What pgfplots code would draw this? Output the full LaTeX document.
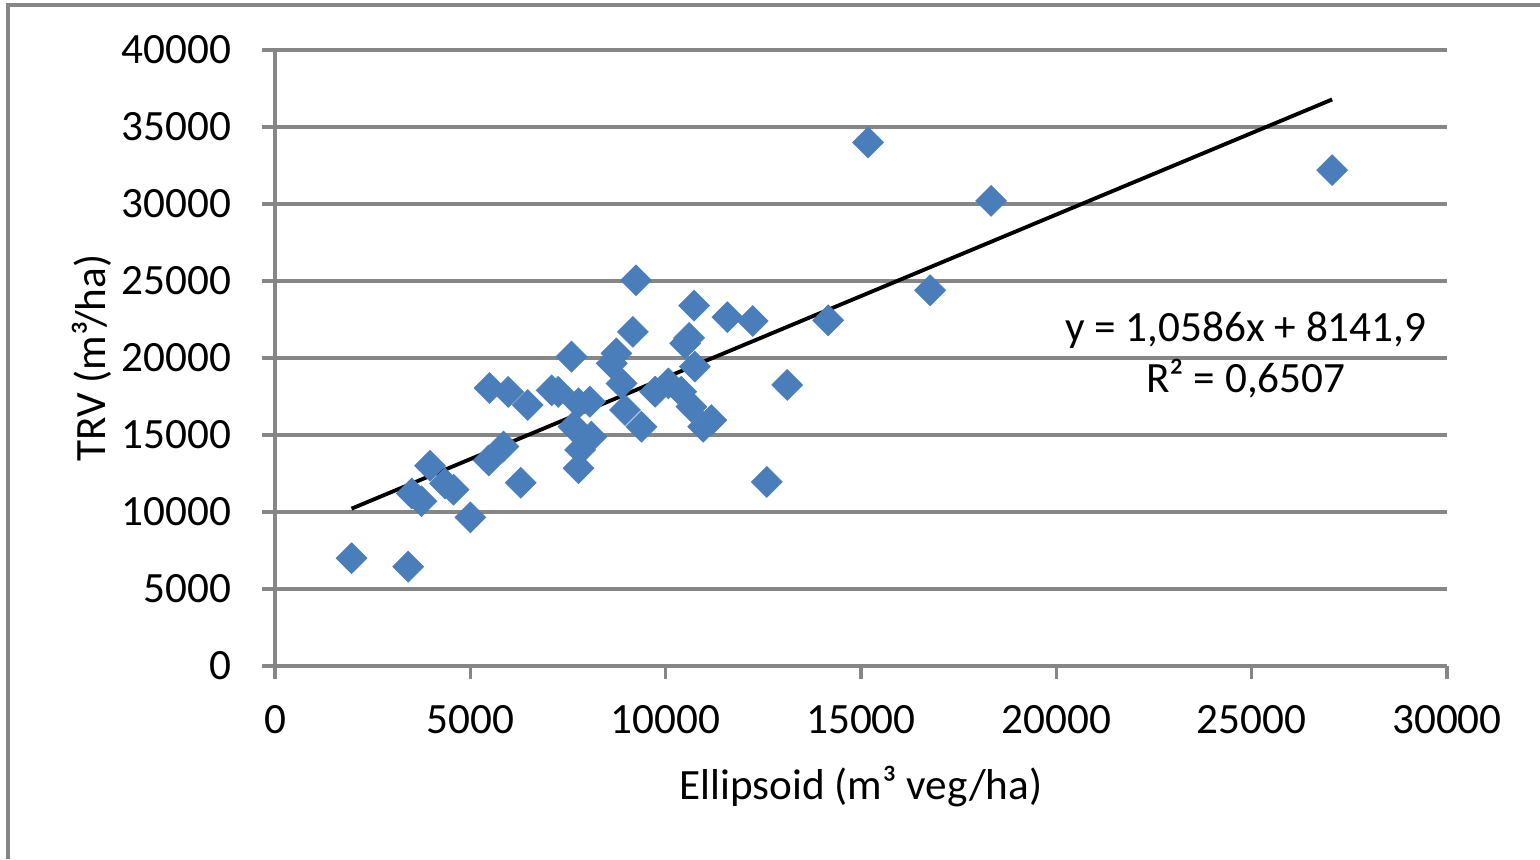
\documentclass[border=0pt]{standalone}
\usepackage{pgfplots}
\pgfplotsset{compat=1.18}
\usepackage{fontspec}
\setmainfont{Carlito}
\definecolor{ptblue}{RGB}{74,126,187}
\definecolor{gridgray}{RGB}{134,134,134}
\begin{document}
\begin{tikzpicture}[x=1cm,y=1cm]
\useasboundingbox (0,0) rectangle (15.4,8.59);
\draw[gridgray, line width=0.9pt] (0.08,0) -- (0.08,8.54) -- (15.4,8.54);
\begin{axis}[
  at={(2.75cm,1.93cm)}, anchor=south west,
  scale only axis, width=11.72cm, height=6.16cm,
  xmin=0, xmax=30000, ymin=0, ymax=40000,
  xtick distance=5000, ytick distance=5000,
  scaled ticks=false,
  axis x line*=bottom, axis y line*=left,
  axis line style={-, gridgray, line width=0.9pt},
  x axis line style={line width=1.3pt},
  xtick pos=left, ytick pos=left,
  ymajorgrids, grid style={gridgray, line width=0.9pt},
  tick align=outside, major tick length=0.13cm,
  tick style={gridgray, line width=0.9pt},
  ticklabel style={font=\fontsize{12.3}{14}\selectfont, inner sep=0pt},
  /pgf/number format/assume math mode=true,
  /pgf/number format/1000 sep={},
  yticklabel style={anchor=east, xshift=-0.30cm},
  xticklabel style={anchor=north, yshift=-0.26cm},
  xlabel={Ellipsoid (m³ veg/ha)},
  ylabel={TRV (m³/ha)},
  label style={font=\fontsize{12.3}{14}\selectfont},
  xlabel style={at={(axis description cs:0.5,-0.196)}, anchor=center},
  ylabel style={at={(axis description cs:-0.156,0.5)}, anchor=center, rotate=0},
]
\addplot[only marks, mark=square*, mark size=3.1pt, color=ptblue,
  mark options={rotate=45, fill=ptblue, draw=ptblue, line width=0.2pt}]
coordinates {
(1960,7000) (3410,6450) (3500,11200) (3750,10700) (3970,13000)
(4350,11850) (4570,11450) (5000,9650) (5470,13350) (5490,18050)
(5850,14250) (5970,17800) (6290,11900) (6470,16950) (7080,17900)
(7250,17800) (7590,20090) (7640,15540) (7770,17060) (7810,14030)
(7770,12840) (8060,17160) (8100,14890) (8620,19650) (8740,20300)
(8870,18350) (8960,16620) (9160,21700) (9240,25050) (9380,15540)
(9730,17810) (10070,18350) (10400,17810) (10500,20950) (10600,21300)
(10660,16840) (10730,23400) (10750,19440) (10960,15540) (11170,15970)
(11580,22650) (12230,22400) (12590,11950) (13110,18250) (14160,22450)
(15180,34000) (16770,24400) (18330,30200) (27060,32200)
};
\addplot[black, line width=1.1pt] coordinates {(1960,10217) (27060,36788)};
\node[align=center, font=\fontsize{12.3}{14.5}\selectfont] at (axis cs:24850,20200)
  {y = 1,0586x + 8141,9\\R² = 0,6507};
\end{axis}
\end{tikzpicture}
\end{document}
